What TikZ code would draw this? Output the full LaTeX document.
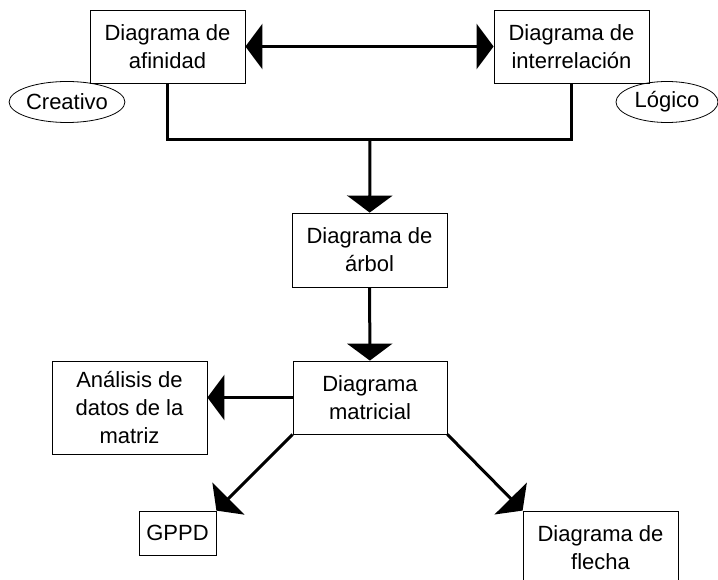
\documentclass[tikz,border=0pt]{standalone}
\usepackage{fontspec}
\setmainfont{Liberation Sans}
\usetikzlibrary{arrows.meta,shapes.geometric}

\begin{document}
\begin{tikzpicture}[x=1pt,y=-1pt,
	box/.style={draw, line width=0.8pt, align=center, inner sep=0pt,
		minimum width=155pt, minimum height=73pt,
		font=\fontsize{22}{28}\selectfont},
	tag/.style={draw, ellipse, line width=0.8pt, inner sep=0pt,
		minimum width=106pt, minimum height=41pt,
		font=\fontsize{22}{28}\selectfont},
	link/.style={line width=3pt, -{Triangle[length=17pt,width=45pt]}},
	bar/.style={line width=3pt}]

\def\headlen{17pt}

\path [use as bounding box] (0,0) rectangle (718,580);

% TOP ROW
\node [box] (afin) at (167.5,46.5) {Diagrama de\\afinidad};
\node [box] (inter) at (571.5,46.5) {Diagrama de\\interrelación};
\node [tag, minimum width=110pt] (creat) at (67,102) {Creativo};
\node [tag, minimum width=102pt] (logic) at (667,102) {Lógico};

% MIDDLE
\node [box, minimum height=74pt] (tree) at (369.5,250) {Diagrama de\\árbol};
\node [box, minimum width=154pt] (matrix) at (370,397.5) {Diagrama\\matricial};

% BOTTOM
\node [box, minimum height=93pt] (anal) at (129.5,407.5) {Análisis de\\datos de la\\matriz};
\node [box, minimum width=77pt, minimum height=44pt] (gppd) at (177.5,533) {GPPD};
\node [box] (arrow) at (600.5,547.5) {Diagrama de\\flecha};

% CONNECTORS
\coordinate (join) at (370,140);
\draw [link, {Triangle[length=\headlen,width=45pt]}-{Triangle[length=\headlen,width=45pt]}]
	(afin) -- (inter);
\draw [bar] (afin.south) |- (join) -| (inter.south);
\draw [link] (join) -- (tree);
\draw [link] (tree) -- (matrix);
\draw [link] (matrix.west) -- (matrix.west -| anal.east);
\draw [link] (matrix.south west) -- (gppd.north east);
\draw [link] (matrix.south east) -- (arrow.north west);

\end{tikzpicture}
\end{document}
